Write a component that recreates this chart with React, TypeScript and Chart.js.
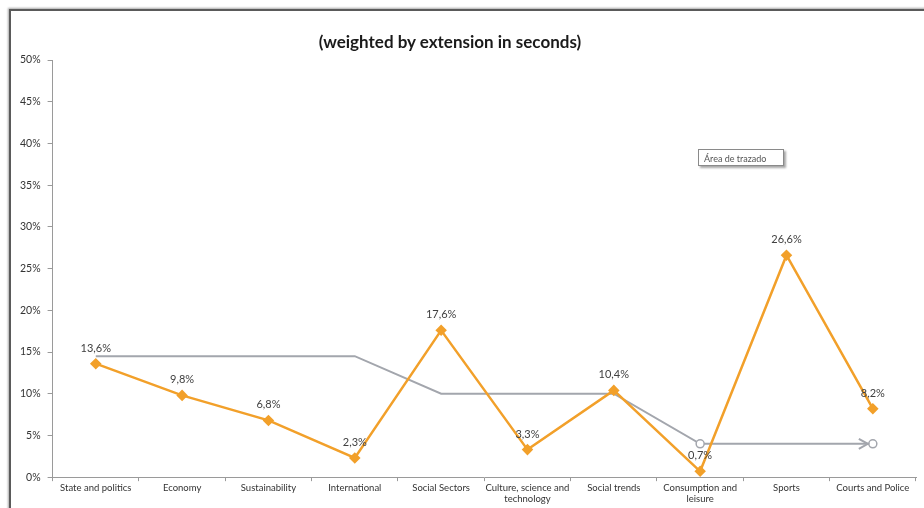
import React, { useEffect, useRef } from 'react';
import { Chart, registerables } from 'chart.js';

Chart.register(...registerables);

const categories: (string | string[])[] = [
  'State and politics',
  'Economy',
  'Sustainability',
  'International',
  'Social Sectors',
  ['Culture, science and', 'technology'],
  'Social trends',
  ['Consumption and', 'leisure'],
  'Sports',
  'Courts and Police',
];
const shares = [13.6, 9.8, 6.8, 2.3, 17.6, 3.3, 10.4, 0.7, 26.6, 8.2];
const referenceLine = [14.5, 14.5, 14.5, 14.5, 10, 10, 10, 4, 4, 4];
const referenceMarkers = [0, 0, 0, 0, 0, 0, 0, 4, 0, 4];
const titleText = '(weighted by extension in seconds)';
const yMax = 50;
const yStep = 5;

const FONT = 'Lato, "Open Sans", sans-serif';
const ORANGE = '#F2A02A';
const GREY = '#A3A6AD';

const fmt = (v: number) => v.toFixed(1).replace('.', ',') + '%';

const labelPlugin = {
  id: 'valueLabels',
  afterDatasetsDraw(chart: any) {
    const ctx = chart.ctx;
    const meta = chart.getDatasetMeta(0);
    ctx.save();
    ctx.font = `11px ${FONT}`;
    ctx.fillStyle = '#404040';
    ctx.textAlign = 'center';
    ctx.textBaseline = 'bottom';
    meta.data.forEach((pt: any, i: number) => {
      ctx.fillText(fmt(shares[i]), pt.x, pt.y - 10);
    });
    const gm = chart.getDatasetMeta(1);
    const last = gm.data[gm.data.length - 1];
    if (last) {
      ctx.strokeStyle = GREY;
      ctx.lineWidth = 2;
      ctx.beginPath();
      ctx.moveTo(last.x - 14, last.y - 5);
      ctx.lineTo(last.x - 5, last.y);
      ctx.lineTo(last.x - 14, last.y + 5);
      ctx.stroke();
    }
    ctx.restore();
  },
};

export default function App() {
  const ref = useRef<HTMLCanvasElement | null>(null);
  useEffect(() => {
    if (!ref.current) return;
    const chart = new Chart(ref.current, {
      type: 'line',
      data: {
        labels: categories as any,
        datasets: [
          {
            data: shares,
            borderColor: ORANGE,
            backgroundColor: ORANGE,
            borderWidth: 2.5,
            pointStyle: 'rectRot',
            pointRadius: 4,
            pointBackgroundColor: ORANGE,
            pointBorderColor: ORANGE,
            tension: 0,
            order: 0,
          },
          {
            data: referenceLine,
            borderColor: GREY,
            borderWidth: 2,
            pointRadius: referenceMarkers,
            pointBackgroundColor: '#ffffff',
            pointBorderColor: GREY,
            pointBorderWidth: 1.5,
            tension: 0,
            order: 1,
          },
        ],
      },
      options: {
        animation: false,
        responsive: false,
        layout: { padding: { top: 60, left: 13, right: 8, bottom: 3 } },
        plugins: {
          legend: { display: false },
          tooltip: { enabled: false },
          title: { display: false },
        },
        scales: {
          x: {
            offset: true,
            grid: {
              offset: true,
              drawOnChartArea: false,
              color: '#9a9a9a',
              tickLength: 4,
            },
            border: { color: '#9a9a9a', width: 1 },
            ticks: {
              color: '#333',
              font: { family: FONT, size: 9.5, lineHeight: 1.15 },
              padding: 1,
              maxRotation: 0,
              autoSkip: false,
            },
          },
          y: {
            min: 0,
            max: yMax,
            grid: { drawOnChartArea: false, color: '#9a9a9a', tickLength: 5 },
            border: { color: '#9a9a9a', width: 1 },
            ticks: {
              stepSize: yStep,
              color: '#333',
              font: { family: FONT, size: 10.5 },
              padding: 7,
              callback: (v: any) => v + '%',
            },
          },
        },
      },
      plugins: [labelPlugin],
    });
    return () => chart.destroy();
  }, []);

  return (
    <div style={{ position: 'absolute', left: 0, top: 0, width: 924, height: 508, background: '#fff', overflow: 'hidden' }}>
      <div
        style={{
          position: 'absolute',
          left: 9,
          top: 9,
          width: 940,
          height: 520,
          borderLeft: '2px solid #5a5a5a',
          borderTop: '2px solid #5a5a5a',
          boxShadow: '-1px -1px 2px rgba(0,0,0,0.35)',
        }}
      />
      <canvas ref={ref} width={924} height={508} style={{ position: 'absolute', left: 0, top: 0 }} />
      <div
        style={{
          position: 'absolute',
          left: 250,
          top: 31,
          width: 400,
          textAlign: 'center',
          font: `bold 17px ${FONT}`,
          color: '#1a1a1a',
          lineHeight: '22px',
        }}
      >
        {titleText}
      </div>
      <div
        style={{
          position: 'absolute',
          left: 698,
          top: 149,
          width: 86,
          height: 17,
          border: '1px solid #8a8a8a',
          background: '#fff',
          boxShadow: '2px 2px 2px rgba(0,0,0,0.35)',
          font: `9px ${FONT}`,
          color: '#555',
          lineHeight: '17px',
          paddingLeft: 5,
          boxSizing: 'border-box',
        }}
      >
        Área de trazado
      </div>
    </div>
  );
}
